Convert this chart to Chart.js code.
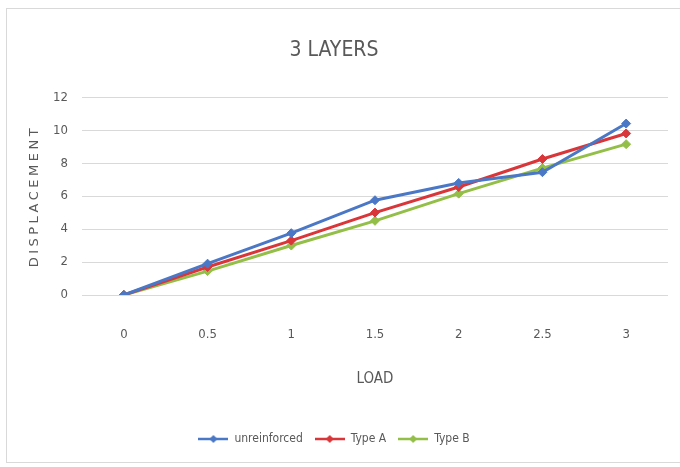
<!DOCTYPE html>
<html>
<head>
<meta charset="utf-8">
<script src="https://cdn.jsdelivr.net/npm/chart.js@4.4.1/dist/chart.umd.min.js"></script>
<style>
  html, body { margin: 0; padding: 0; background: #fff; overflow: hidden; }
  #wrap { position: relative; width: 680px; height: 467px; overflow: hidden; }
  #frame {
    position: absolute; left: 6px; top: 8px; width: 674px; height: 453px;
    border: 1px solid #d9d9d9; border-right: none;
  }
  canvas { position: absolute; left: 0; top: 0; }
</style>
</head>
<body>
<div id="wrap">
  <div id="frame"></div>
  <canvas id="chart" width="680" height="467"></canvas>
</div>
<script>
// ---- Data ----
const loads = ['0', '0.5', '1', '1.5', '2', '2.5', '3'];
const unreinforced = [0, 1.9, 3.75, 5.75, 6.8, 7.45, 10.4];
const typeA = [0, 1.7, 3.3, 5.0, 6.55, 8.25, 9.8];
const typeB = [0, 1.45, 3.0, 4.5, 6.15, 7.7, 9.15];
const yTicks = [0, 2, 4, 6, 8, 10, 12];

const NARROW = "'DejaVu Sans Condensed', 'Liberation Sans Narrow', sans-serif";
const TEXT = '#595959';
const colors = { blue: '#4a78c6', red: '#d9363a', green: '#93bf48' };

// legend icon: short line with a diamond marker in the middle
function legendIcon(color) {
  const c = document.createElement('canvas');
  c.width = 30; c.height = 10;
  const g = c.getContext('2d');
  g.strokeStyle = color;
  g.lineWidth = 2.5;
  g.beginPath(); g.moveTo(0, 5); g.lineTo(30, 5); g.stroke();
  g.fillStyle = color;
  g.beginPath(); g.moveTo(15, 1); g.lineTo(19, 5); g.lineTo(15, 9); g.lineTo(11, 5); g.closePath(); g.fill();
  return c;
}

// linear scale whose title is drawn letter-spaced
class SpacedLinear extends Chart.LinearScale {
  drawTitle() {
    this.ctx.save();
    this.ctx.letterSpacing = '3.5px';
    super.drawTitle();
    this.ctx.restore();
  }
}
SpacedLinear.id = 'spacedLinear';
SpacedLinear.defaults = Chart.LinearScale.defaults;
Chart.register(SpacedLinear);

function series(label, data, color) {
  return {
    label, data,
    borderColor: color,
    backgroundColor: color,
    borderWidth: 3,
    pointStyle: 'rectRot',
    pointRadius: 4.5,
    pointBorderWidth: 1,
    tension: 0,
    icon: legendIcon(color)
  };
}

new Chart(document.getElementById('chart'), {
  type: 'line',
  data: {
    labels: loads,
    datasets: [
      series('unreinforced', unreinforced, colors.blue),
      series('Type A', typeA, colors.red),
      series('Type B', typeB, colors.green)
    ]
  },
  options: {
    responsive: false,
    animation: false,
    layout: { padding: { left: 0, right: 12, top: 0, bottom: 12 } },
    plugins: {
      title: {
        display: true,
        text: '3 LAYERS',
        color: TEXT,
        font: { family: NARROW, size: 21, weight: 'normal' },
        padding: { top: 38, bottom: 34 }
      },
      legend: {
        position: 'bottom',
        labels: {
          color: TEXT,
          font: { family: NARROW, size: 12 },
          usePointStyle: true,
          pointStyleWidth: 30,
          padding: 12,
          generateLabels: (chart) => chart.data.datasets.map((ds, i) => ({
            text: ds.label,
            pointStyle: ds.icon,
            fillStyle: ds.borderColor,
            strokeStyle: ds.borderColor,
            lineWidth: 0,
            datasetIndex: i,
            fontColor: TEXT
          }))
        }
      },
      tooltip: { enabled: false }
    },
    scales: {
      x: {
        offset: true,
        grid: { display: false, drawTicks: false },
        border: { display: false },
        ticks: { color: TEXT, font: { family: NARROW, size: 13 }, padding: 32, maxRotation: 0 },
        title: {
          display: true, text: 'LOAD', color: TEXT,
          font: { family: NARROW, size: 15 }, padding: { top: 0, bottom: 33 }
        },
        afterFit: (s) => { s.height = 126; }
      },
      y: {
        type: 'spacedLinear',
        min: 0, max: 12,
        afterBuildTicks: (s) => { s.ticks = yTicks.map(v => ({ value: v })); },
        grid: { color: '#d9d9d9', lineWidth: 1, drawTicks: false },
        border: { display: false },
        ticks: { color: TEXT, font: { family: NARROW, size: 13 }, padding: 14 },
        title: {
          display: true, text: 'DISPLACEMENT', color: TEXT,
          font: { family: "'DejaVu Sans', sans-serif", size: 13 }, padding: { top: 27, bottom: 0 }
        },
        afterFit: (s) => { s.width = 82; }
      }
    }
  }
});
</script>
</body>
</html>
